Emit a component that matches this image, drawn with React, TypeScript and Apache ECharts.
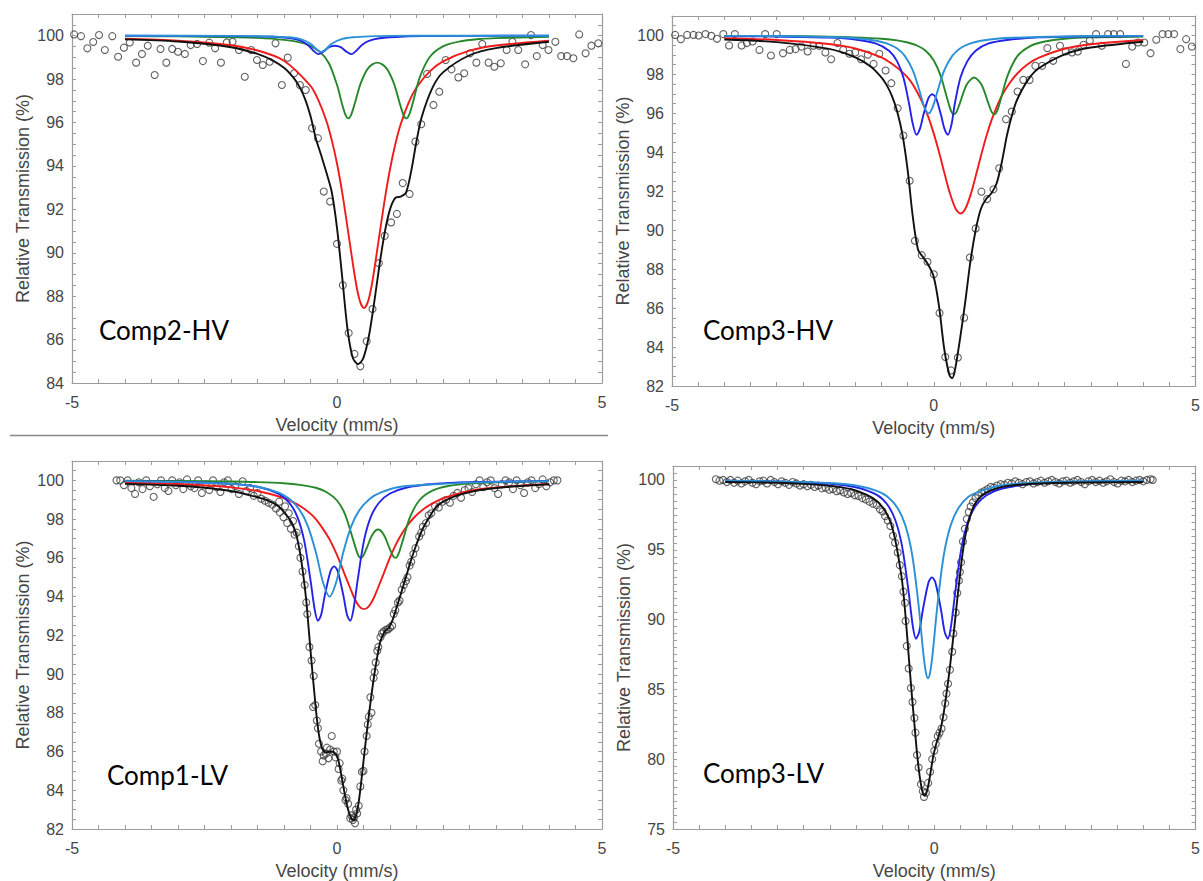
import React, { useEffect, useRef } from 'react';
import * as echarts from 'echarts';

type P = [number, number];

// ---------- Panel 1: Comp2-HV ----------
const p1Pts: P[] = [[-4.96,100.06],[-4.83,99.98],[-4.71,99.42],[-4.6,99.71],[-4.49,100.03],[-4.38,99.34],[-4.24,99.98],[-4.13,99.03],[-4.02,99.45],[-3.91,99.69],[-3.79,98.76],[-3.68,99.16],[-3.57,99.54],[-3.44,98.19],[-3.33,99.39],[-3.22,98.76],[-3.11,99.39],[-3.0,99.26],[-2.87,99.16],[-2.76,99.57],[-2.64,99.62],[-2.53,98.83],[-2.41,99.68],[-2.3,99.42],[-2.19,98.76],[-2.08,99.69],[-1.97,99.72],[-1.85,99.34],[-1.74,98.11],[-1.62,99.34],[-1.51,98.88],[-1.4,98.65],[-1.27,98.8],[-1.16,99.65],[-1.04,97.73],[-0.93,98.99],[-0.81,98.27],[-0.7,97.73],[-0.59,97.5],[-0.47,95.74],[-0.36,95.28],[-0.25,92.82],[-0.13,92.36],[0.0,90.41],[0.11,88.5],[0.22,86.3],[0.33,85.34],[0.44,84.77],[0.56,85.92],[0.67,87.41],[0.79,89.52],[0.9,90.78],[1.02,91.4],[1.13,91.79],[1.24,93.21],[1.37,92.71],[1.48,95.12],[1.59,95.92],[1.7,98.24],[1.82,96.81],[1.93,97.42],[2.05,98.88],[2.16,98.45],[2.29,98.08],[2.4,98.27],[2.51,99.19],[2.63,98.76],[2.74,99.62],[2.86,98.76],[2.97,98.57],[3.09,98.73],[3.2,99.34],[3.31,99.72],[3.42,99.34],[3.55,98.68],[3.66,100.03],[3.77,99.06],[3.88,99.57],[3.99,99.34],[4.12,99.72],[4.23,99.06],[4.34,99.06],[4.46,98.96],[4.57,100.06],[4.69,99.19],[4.8,99.54],[4.93,99.65]];
const p1Black: P[] = [[-4,99.83],[-3,99.73],[-2,99.47],[-1.5,99.16],[-1.2,98.84],[-1,98.52],[-0.9,98.29],[-0.8,98.0],[-0.7,97.61],[-0.6,97.07],[-0.5,96.3],[-0.4,95.28],[-0.3,94.5],[-0.2,93.7],[-0.1,92.81],[0,91.15],[0.1,88.83],[0.2,86.45],[0.3,85.15],[0.4,84.87],[0.5,85.17],[0.6,86.14],[0.7,87.68],[0.8,89.41],[0.9,90.93],[1.0,92.0],[1.1,92.53],[1.2,92.59],[1.3,92.76],[1.4,93.76],[1.5,95.14],[1.6,96.27],[1.8,97.6],[2.0,98.31],[2.5,99.1],[3,99.43],[4,99.72]];
const p1Red: P[] = [[-4,99.86],[-3,99.77],[-2,99.56],[-1.5,99.32],[-1,98.85],[-0.5,97.69],[-0.35,97.02],[-0.2,96.07],[-0.1,95.2],[0,94.11],[0.1,92.75],[0.2,91.14],[0.35,88.71],[0.43,87.79],[0.51,87.45],[0.59,87.79],[0.67,88.71],[0.8,90.81],[0.9,92.44],[1.0,93.85],[1.1,95.0],[1.2,95.91],[1.35,96.91],[1.5,97.61],[1.75,98.36],[2,98.82],[2.5,99.31],[3,99.55],[4,99.77]];
const p1Green: P[] = [[-4,99.98],[-3,99.97],[-2,99.93],[-1.5,99.9],[-1,99.81],[-0.7,99.69],[-0.5,99.53],[-0.3,99.21],[-0.15,98.72],[0,97.74],[0.05,97.29],[0.1,96.81],[0.16,96.35],[0.21,96.19],[0.26,96.32],[0.33,96.83],[0.45,97.83],[0.6,98.54],[0.76,98.76],[0.92,98.54],[1.07,97.83],[1.19,96.83],[1.26,96.32],[1.31,96.19],[1.36,96.35],[1.43,96.9],[1.56,98.07],[1.75,99.02],[2,99.51],[2.3,99.73],[2.7,99.85],[3,99.89],[4,99.95]];
const p1Blue: P[] = [[-4,100],[-2,99.98],[-1.2,99.95],[-0.9,99.89],[-0.7,99.78],[-0.55,99.57],[-0.45,99.32],[-0.35,99.15],[-0.25,99.28],[-0.15,99.47],[-0.04,99.54],[0.07,99.47],[0.17,99.28],[0.27,99.15],[0.37,99.32],[0.47,99.57],[0.6,99.76],[0.8,99.88],[1.1,99.94],[1.6,99.98],[2.5,99.99],[4,100]];
const p1LightBlue: P[] = [[-4,100],[-2,99.99],[-1.2,99.96],[-0.9,99.93],[-0.7,99.85],[-0.5,99.63],[-0.4,99.4],[-0.3,99.25],[-0.2,99.4],[-0.1,99.63],[0.1,99.85],[0.3,99.93],[0.6,99.97],[1,99.99],[2,100],[4,100]];

// ---------- Panel 2: Comp3-HV ----------
const p2Pts: P[] = [[-4.94,100.03],[-4.83,99.81],[-4.71,100.03],[-4.59,100.03],[-4.49,100.0],[-4.36,100.07],[-4.25,99.98],[-4.14,99.83],[-4.02,100.07],[-3.91,99.49],[-3.8,100.07],[-3.67,99.49],[-3.57,99.61],[-3.46,99.69],[-3.33,99.26],[-3.22,100.07],[-3.11,98.97],[-3.0,100.07],[-2.88,99.09],[-2.75,99.26],[-2.64,99.3],[-2.53,99.43],[-2.41,99.18],[-2.3,99.47],[-2.19,99.47],[-2.07,99.13],[-1.96,98.78],[-1.84,99.61],[-1.73,99.26],[-1.61,99.06],[-1.5,99.13],[-1.39,98.78],[-1.26,99.01],[-1.15,98.54],[-1.04,99.06],[-0.92,98.2],[-0.81,97.55],[-0.69,96.26],[-0.58,94.86],[-0.46,92.54],[-0.36,89.46],[-0.23,88.72],[-0.12,88.38],[0.0,87.74],[0.11,85.75],[0.22,83.49],[0.33,82.8],[0.46,83.46],[0.58,85.51],[0.69,88.6],[0.8,90.09],[0.91,91.98],[1.02,91.6],[1.14,92.1],[1.25,93.18],[1.38,95.7],[1.49,96.09],[1.6,97.12],[1.71,97.72],[1.83,97.72],[1.94,98.44],[2.07,98.44],[2.17,99.35],[2.28,98.7],[2.41,99.47],[2.52,99.18],[2.64,99.13],[2.75,99.18],[2.86,99.52],[2.98,99.74],[3.1,100.07],[3.21,99.47],[3.33,100.07],[3.44,100.07],[3.56,100.07],[3.67,98.54],[3.79,99.43],[3.9,99.64],[4.02,99.64],[4.14,99.09],[4.25,99.78],[4.37,100.07],[4.48,100.07],[4.59,100.07],[4.71,99.3],[4.82,99.81],[4.93,99.43]];
const p2Black: P[] = [[-4,99.79],[-3,99.66],[-2,99.31],[-1.5,98.88],[-1.2,98.4],[-1,97.85],[-0.9,97.45],[-0.8,96.9],[-0.7,96.11],[-0.6,94.93],[-0.5,93.11],[-0.4,90.68],[-0.3,89.0],[-0.2,88.6],[-0.1,88.2],[0,87.6],[0.1,86.1],[0.2,83.9],[0.3,82.55],[0.35,82.4],[0.4,82.75],[0.5,84.4],[0.6,86.3],[0.7,88.4],[0.8,90.0],[0.9,91.1],[1.0,91.6],[1.1,91.9],[1.2,92.4],[1.3,93.5],[1.4,94.9],[1.5,95.97],[1.6,96.75],[1.8,97.72],[2,98.3],[2.5,99.03],[3,99.38],[4,99.68]];
const p2Red: P[] = [[-4,99.86],[-3,99.77],[-2,99.56],[-1.5,99.33],[-1,98.88],[-0.8,98.55],[-0.6,98.12],[-0.45,97.68],[-0.3,97.01],[-0.2,96.45],[-0.1,95.78],[0,94.96],[0.1,94.01],[0.2,92.97],[0.3,91.97],[0.42,91.09],[0.51,90.86],[0.6,91.09],[0.7,91.79],[0.8,92.77],[0.9,93.81],[1.0,94.79],[1.1,95.63],[1.2,96.32],[1.3,96.91],[1.45,97.56],[1.6,98.06],[1.8,98.53],[2,98.85],[2.5,99.32],[3,99.55],[4,99.77]];
const p2Green: P[] = [[-4,99.98],[-3,99.97],[-2,99.94],[-1.5,99.9],[-1,99.83],[-0.7,99.75],[-0.5,99.64],[-0.3,99.46],[-0.15,99.2],[0,98.72],[0.13,97.94],[0.26,96.73],[0.33,96.13],[0.38,95.95],[0.43,96.05],[0.5,96.54],[0.63,97.48],[0.77,97.84],[0.91,97.48],[1.04,96.54],[1.11,96.05],[1.16,95.95],[1.21,96.13],[1.28,96.73],[1.41,97.94],[1.6,98.95],[1.85,99.47],[2.1,99.68],[2.5,99.83],[3,99.9],[4,99.95]];
const p2Blue: P[] = [[-4,99.97],[-3,99.95],[-2,99.89],[-1.5,99.79],[-1.1,99.58],[-0.85,99.2],[-0.7,98.67],[-0.58,97.84],[-0.47,96.47],[-0.4,95.45],[-0.33,94.9],[-0.26,95.24],[-0.2,95.9],[-0.1,96.79],[-0.03,96.98],[0.04,96.79],[0.14,95.9],[0.2,95.24],[0.27,94.9],[0.34,95.45],[0.4,96.47],[0.51,97.84],[0.64,98.67],[0.8,99.22],[1.05,99.59],[1.4,99.77],[2,99.9],[3,99.95],[4,99.97]];
const p2LightBlue: P[] = [[-4,99.98],[-3,99.97],[-2,99.92],[-1.5,99.86],[-1.1,99.73],[-0.9,99.59],[-0.7,99.33],[-0.55,98.94],[-0.4,98.21],[-0.27,97.13],[-0.18,96.32],[-0.1,96.0],[-0.02,96.32],[0.07,97.13],[0.2,98.21],[0.35,98.94],[0.5,99.33],[0.7,99.59],[0.9,99.73],[1.3,99.86],[2,99.92],[3,99.97],[4,99.98]];

// ---------- Panel 3: Comp1-LV ----------
const p3Pts: P[] = [[-4.16,100.0],[-4.09,100.0],[-4.02,99.75],[-3.95,100.0],[-3.88,99.6],[-3.81,99.3],[-3.74,99.9],[-3.67,99.55],[-3.6,100.0],[-3.53,99.7],[-3.46,99.15],[-3.39,99.8],[-3.32,100.0],[-3.25,99.6],[-3.18,99.45],[-3.11,100.0],[-3.04,99.75],[-2.97,99.9],[-2.9,99.55],[-2.83,100.05],[-2.76,99.7],[-2.69,99.6],[-2.62,100.0],[-2.55,99.35],[-2.48,99.8],[-2.41,99.5],[-2.34,100.0],[-2.27,99.65],[-2.2,99.4],[-2.13,99.9],[-2.06,100.0],[-1.99,99.55],[-1.92,99.7],[-1.85,99.3],[-1.78,99.95],[-1.71,99.45],[-1.64,99.6],[-1.57,99.2],[-1.5,99.35],[-1.43,99.05],[-1.36,98.95],[-1.29,98.85],[-1.22,98.75],[-1.15,98.55],[-1.09,98.9],[-1.08,98.35],[-1.01,98.1],[-0.98,98.66],[-0.94,97.8],[-0.91,98.3],[-0.87,97.5],[-0.83,97.9],[-0.8,97.2],[-0.76,97.3],[-0.72,96.6],[-0.69,96.0],[-0.65,95.3],[-0.61,94.6],[-0.58,93.7],[-0.56,93.1],[-0.52,91.4],[-0.48,90.7],[-0.45,88.3],[-0.44,89.9],[-0.41,88.4],[-0.38,87.6],[-0.36,87.2],[-0.34,86.4],[-0.3,86.0],[-0.27,85.5],[-0.25,85.8],[-0.21,85.9],[-0.19,86.2],[-0.16,85.65],[-0.13,86.1],[-0.1,86.8],[-0.06,86.0],[-0.03,85.7],[0.0,86.0],[0.03,85.1],[0.05,85.4],[0.08,84.5],[0.1,84.6],[0.12,84.0],[0.16,83.5],[0.18,83.6],[0.21,83.3],[0.25,82.55],[0.27,82.7],[0.3,82.47],[0.32,82.6],[0.34,82.3],[0.36,83.0],[0.38,82.8],[0.41,83.2],[0.44,84.2],[0.47,84.96],[0.5,85.0],[0.52,86.0],[0.56,86.8],[0.58,87.4],[0.6,87.8],[0.63,88.8],[0.65,88.0],[0.69,89.8],[0.71,90.1],[0.73,90.6],[0.76,91.2],[0.78,91.4],[0.82,91.9],[0.85,92.1],[0.88,92.2],[0.93,92.3],[0.96,92.3],[1.0,92.4],[1.04,92.5],[1.07,93.1],[1.1,93.3],[1.15,93.7],[1.18,93.8],[1.22,94.35],[1.26,94.6],[1.3,94.8],[1.33,95.0],[1.37,95.6],[1.4,95.8],[1.44,96.2],[1.48,96.5],[1.55,97.1],[1.59,97.3],[1.62,97.6],[1.68,97.8],[1.73,98.2],[1.78,98.3],[1.85,98.66],[1.92,98.6],[1.99,98.9],[2.06,99.0],[2.13,98.85],[2.2,99.2],[2.27,99.35],[2.34,99.1],[2.41,99.5],[2.48,99.6],[2.55,99.4],[2.62,99.8],[2.69,100.0],[2.76,99.65],[2.83,99.9],[2.9,100.0],[2.97,99.6],[3.04,99.3],[3.11,99.8],[3.18,100.0],[3.25,99.9],[3.32,99.55],[3.39,100.0],[3.46,99.75],[3.53,99.35],[3.6,99.9],[3.67,100.0],[3.74,99.6],[3.81,99.8],[3.88,100.05],[3.95,99.7],[4.02,99.9],[4.09,100.0],[4.16,100.0]];
const p3Black: P[] = [[-4,99.82],[-3,99.72],[-2.5,99.62],[-2,99.45],[-1.6,99.2],[-1.3,98.95],[-1.1,98.65],[-0.95,98.2],[-0.85,97.8],[-0.77,97.2],[-0.7,96.3],[-0.64,95.2],[-0.58,93.8],[-0.53,92.2],[-0.48,90.6],[-0.43,89.1],[-0.38,87.7],[-0.33,86.7],[-0.27,86.1],[-0.2,85.95],[-0.12,86.0],[-0.05,85.95],[0.02,85.6],[0.08,84.8],[0.14,83.9],[0.2,83.1],[0.26,82.6],[0.31,82.45],[0.36,82.7],[0.41,83.4],[0.46,84.5],[0.52,86.0],[0.58,87.4],[0.64,88.7],[0.7,89.9],[0.76,90.9],[0.82,91.7],[0.9,92.2],[0.98,92.4],[1.05,92.8],[1.12,93.4],[1.2,94.1],[1.3,95.0],[1.4,95.9],[1.5,96.7],[1.6,97.4],[1.72,98.0],[1.85,98.55],[2,98.9],[2.3,99.25],[2.7,99.5],[3.2,99.66],[4,99.8]];
const p3Red: P[] = [[-4,99.88],[-3,99.81],[-2,99.64],[-1.5,99.45],[-1,99.09],[-0.8,98.84],[-0.6,98.5],[-0.45,98.15],[-0.3,97.64],[-0.15,97.0],[-0.05,96.45],[0.05,95.82],[0.15,95.11],[0.25,94.43],[0.33,93.9],[0.42,93.5],[0.51,93.35],[0.6,93.5],[0.69,93.9],[0.77,94.43],[0.87,95.11],[0.97,95.82],[1.07,96.45],[1.17,97.0],[1.3,97.57],[1.45,98.07],[1.6,98.45],[1.8,98.81],[2,99.07],[2.5,99.45],[3,99.63],[4,99.81]];
const p3Green: P[] = [[-4,99.98],[-3,99.97],[-2,99.94],[-1.5,99.91],[-1,99.85],[-0.7,99.77],[-0.4,99.62],[-0.2,99.4],[0,98.96],[0.15,98.26],[0.3,96.98],[0.39,96.2],[0.44,96.0],[0.49,96.08],[0.56,96.5],[0.67,97.2],[0.775,97.46],[0.88,97.2],[0.99,96.5],[1.06,96.08],[1.11,96.0],[1.16,96.2],[1.25,96.98],[1.37,98.05],[1.55,98.96],[1.8,99.47],[2.1,99.71],[2.5,99.83],[3,99.9],[4,99.96]];
const p3Blue: P[] = [[-4,99.96],[-3,99.93],[-2,99.82],[-1.5,99.67],[-1.1,99.3],[-0.9,98.84],[-0.75,98.13],[-0.62,96.9],[-0.5,94.85],[-0.42,93.32],[-0.36,92.75],[-0.3,93.05],[-0.23,94.06],[-0.12,95.33],[-0.055,95.56],[0.01,95.33],[0.12,94.06],[0.19,93.05],[0.25,92.75],[0.31,93.32],[0.39,94.85],[0.51,96.9],[0.64,98.13],[0.8,98.87],[1.0,99.32],[1.3,99.62],[1.8,99.81],[2.5,99.91],[4,99.96]];
const p3LightBlue: P[] = [[-4,99.96],[-3,99.92],[-2,99.82],[-1.5,99.67],[-1.1,99.37],[-0.9,99.05],[-0.7,98.45],[-0.55,97.64],[-0.4,96.3],[-0.26,94.7],[-0.14,94.0],[-0.02,94.7],[0.12,96.3],[0.27,97.64],[0.42,98.45],[0.62,99.05],[0.82,99.37],[1.2,99.67],[2,99.82],[3,99.92],[4,99.96]];

// ---------- Panel 4: Comp3-LV ----------
const p4Pts: P[] = [[-4.18,100.05],[-4.11,99.95],[-4.04,100.0],[-3.97,99.85],[-3.9,100.0],[-3.83,99.8],[-3.76,99.95],[-3.69,99.75],[-3.62,99.9],[-3.55,100.0],[-3.48,99.8],[-3.41,99.7],[-3.34,99.9],[-3.27,99.95],[-3.2,99.75],[-3.13,100.0],[-3.06,99.85],[-2.99,99.7],[-2.92,99.9],[-2.85,99.8],[-2.78,99.65],[-2.71,99.85],[-2.64,99.75],[-2.57,99.6],[-2.5,99.7],[-2.43,99.55],[-2.36,99.65],[-2.29,99.5],[-2.22,99.6],[-2.15,99.4],[-2.08,99.45],[-2.01,99.3],[-1.94,99.35],[-1.87,99.2],[-1.8,99.25],[-1.73,99.1],[-1.66,99.0],[-1.59,99.05],[-1.52,98.9],[-1.45,98.85],[-1.38,98.7],[-1.31,98.6],[-1.24,98.45],[-1.17,98.3],[-1.1,98.2],[-1.04,97.9],[-0.99,97.75],[-0.94,97.4],[-0.89,97.1],[-0.84,96.7],[-0.79,96.0],[-0.75,95.5],[-0.7,94.8],[-0.66,93.9],[-0.62,93.1],[-0.59,92.0],[-0.56,91.2],[-0.55,89.9],[-0.527,88.1],[-0.49,86.5],[-0.447,85.1],[-0.417,84.1],[-0.38,82.95],[-0.36,81.9],[-0.33,80.3],[-0.3,79.4],[-0.256,78.2],[-0.22,77.7],[-0.197,77.3],[-0.161,77.6],[-0.117,78.3],[-0.08,79.1],[-0.04,80.0],[0.0,80.6],[0.029,81.1],[0.066,81.65],[0.1,81.9],[0.139,82.2],[0.176,83.0],[0.21,84.0],[0.234,84.7],[0.264,85.4],[0.3,86.4],[0.344,87.7],[0.366,89.0],[0.41,90.5],[0.439,91.9],[0.47,92.8],[0.49,93.4],[0.512,94.1],[0.549,95.6],[0.586,96.5],[0.622,97.2],[0.66,97.7],[0.696,98.1],[0.74,98.4],[0.79,98.7],[0.84,98.9],[0.9,99.1],[0.96,99.2],[1.02,99.35],[1.08,99.5],[1.14,99.45],[1.2,99.6],[1.27,99.7],[1.34,99.65],[1.41,99.8],[1.48,99.75],[1.55,99.9],[1.62,99.8],[1.69,99.7],[1.76,99.85],[1.83,99.9],[1.9,99.75],[1.97,99.85],[2.04,99.95],[2.11,99.8],[2.18,99.9],[2.25,100.0],[2.32,99.85],[2.39,99.75],[2.46,99.9],[2.53,99.95],[2.6,99.8],[2.67,99.9],[2.74,100.0],[2.81,99.85],[2.88,99.7],[2.95,99.9],[3.02,100.0],[3.09,99.85],[3.16,99.95],[3.23,99.8],[3.3,99.9],[3.37,100.05],[3.44,99.85],[3.51,99.75],[3.58,99.95],[3.65,99.9],[3.72,100.0],[3.79,99.85],[3.86,99.95],[3.93,100.0],[4.0,99.9],[4.07,100.0],[4.14,100.05],[4.18,100.0]];
const p4Black: P[] = [[-4,99.85],[-3,99.8],[-2.5,99.72],[-2,99.58],[-1.6,99.35],[-1.3,98.95],[-1.1,98.5],[-0.98,98.0],[-0.9,97.5],[-0.83,96.9],[-0.77,96.1],[-0.72,95.2],[-0.67,94.1],[-0.62,92.9],[-0.58,91.5],[-0.54,89.8],[-0.5,87.9],[-0.46,86.0],[-0.42,84.2],[-0.38,82.5],[-0.34,80.8],[-0.3,79.4],[-0.26,78.3],[-0.22,77.6],[-0.18,77.4],[-0.14,77.7],[-0.1,78.4],[-0.06,79.3],[-0.02,80.2],[0.03,81.0],[0.08,81.6],[0.13,82.3],[0.18,83.3],[0.23,84.6],[0.28,86.0],[0.33,87.6],[0.38,89.3],[0.43,91.1],[0.48,92.8],[0.53,94.4],[0.58,95.7],[0.64,96.8],[0.7,97.6],[0.78,98.3],[0.9,98.85],[1.05,99.2],[1.3,99.5],[1.7,99.68],[2.5,99.8],[4,99.85]];
const p4Blue: P[] = [[-4,99.94],[-3,99.88],[-2,99.73],[-1.5,99.48],[-1.1,98.93],[-0.9,98.24],[-0.75,97.17],[-0.62,95.33],[-0.5,92.25],[-0.41,89.52],[-0.35,88.63],[-0.29,89.1],[-0.22,90.67],[-0.11,92.68],[-0.045,93.02],[0.02,92.68],[0.13,90.67],[0.2,89.1],[0.26,88.63],[0.32,89.52],[0.4,91.93],[0.52,95.14],[0.65,97.07],[0.8,98.19],[1.0,98.91],[1.3,99.38],[1.8,99.7],[2.5,99.84],[4,99.94]];
const p4LightBlue: P[] = [[-4,99.95],[-3,99.9],[-2,99.78],[-1.5,99.6],[-1.1,99.22],[-0.9,98.81],[-0.7,97.98],[-0.55,96.71],[-0.42,94.57],[-0.3,91.02],[-0.21,87.6],[-0.16,86.2],[-0.12,85.8],[-0.08,86.2],[-0.03,87.6],[0.06,91.02],[0.18,94.57],[0.31,96.71],[0.46,97.98],[0.66,98.81],[0.9,99.22],[1.3,99.62],[2,99.83],[3,99.92],[4,99.95]];

const panelLabels = ['Comp2-HV', 'Comp3-HV', 'Comp1-LV', 'Comp3-LV'];
const yMins = [84, 82, 82, 75];
const yMax = 101;
const yLabelSteps = [2, 2, 2, 5];

const C_BLACK = '#111111';
const C_RED = '#f01c1c';
const C_GREEN = '#27882b';
const C_BLUE = '#2323ea';
const C_LBLUE = '#2b90d6';
const FRAME = '#9c9c9c';
const LABEL = '#464646';
const FONT = "'Liberation Sans', Arial, sans-serif";

const grids = [
  { left: 72, top: 14, width: 530, height: 369 },
  { left: 672, top: 16, width: 529, height: 370 },
  { left: 72, top: 461, width: 530, height: 369 },
  { left: 673, top: 466, width: 524, height: 366 },
];

const labelPos = [
  [99, 330],
  [703, 330],
  [107, 775],
  [703, 773],
];

const panelSeries: { pts: P[]; lines: { data: P[]; color: string }[] }[] = [
  { pts: p1Pts, lines: [
    { data: p1Red, color: C_RED }, { data: p1Green, color: C_GREEN },
    { data: p1Blue, color: C_BLUE }, { data: p1LightBlue, color: C_LBLUE }, { data: p1Black, color: C_BLACK } ] },
  { pts: p2Pts, lines: [
    { data: p2Red, color: C_RED }, { data: p2Green, color: C_GREEN },
    { data: p2Blue, color: C_BLUE }, { data: p2LightBlue, color: C_LBLUE }, { data: p2Black, color: C_BLACK } ] },
  { pts: p3Pts, lines: [
    { data: p3Red, color: C_RED }, { data: p3Green, color: C_GREEN },
    { data: p3Blue, color: C_BLUE }, { data: p3LightBlue, color: C_LBLUE }, { data: p3Black, color: C_BLACK } ] },
  { pts: p4Pts, lines: [
    { data: p4Blue, color: C_BLUE }, { data: p4LightBlue, color: C_LBLUE }, { data: p4Black, color: C_BLACK } ] },
];

function buildOption() {
  const xAxis: any[] = [];
  const yAxis: any[] = [];
  const series: any[] = [];
  grids.forEach((_, i) => {
    const baseLine = { show: true, onZero: false, lineStyle: { color: FRAME, width: 1.2 } };
    const tick = { show: true, inside: true, length: 4, lineStyle: { color: FRAME, width: 1 } };
    xAxis.push({
      type: 'value', gridIndex: i, position: 'bottom', min: -5, max: 5, interval: 0.5,
      axisLine: baseLine, axisTick: tick, splitLine: { show: false },
      axisLabel: {
        show: true, showMinLabel: true, showMaxLabel: true,
        formatter: (v: number) => (Math.abs(v % 5) < 1e-9 ? String(Math.round(v)) : ''),
        color: LABEL, fontSize: 16, fontFamily: FONT, margin: 11,
      },
      name: 'Velocity (mm/s)', nameLocation: 'middle', nameGap: 33,
      nameTextStyle: { color: LABEL, fontSize: 18, fontFamily: FONT },
    });
    xAxis.push({
      type: 'value', gridIndex: i, position: 'top', min: -5, max: 5, interval: 0.5,
      axisLine: baseLine, axisTick: tick, splitLine: { show: false }, axisLabel: { show: false },
    });
    const step = yLabelSteps[i];
    yAxis.push({
      type: 'value', gridIndex: i, position: 'left', min: yMins[i], max: yMax, interval: 0.5,
      axisLine: baseLine, axisTick: tick, splitLine: { show: false },
      axisLabel: {
        show: true,
        formatter: (v: number) => (Math.abs(v % step) < 1e-9 ? String(Math.round(v)) : ''),
        color: LABEL, fontSize: 16, fontFamily: FONT, margin: 8,
      },
      name: 'Relative Transmission (%)', nameLocation: 'middle', nameGap: 40,
      nameTextStyle: { color: LABEL, fontSize: 18, fontFamily: FONT },
    });
    yAxis.push({
      type: 'value', gridIndex: i, position: 'right', min: yMins[i], max: yMax, interval: 0.5,
      axisLine: baseLine, axisTick: tick, splitLine: { show: false }, axisLabel: { show: false },
    });
    const ps = panelSeries[i];
    series.push({
      type: 'scatter', xAxisIndex: 2 * i, yAxisIndex: 2 * i, data: ps.pts,
      symbol: 'circle', symbolSize: 7, silent: true, z: 2,
      itemStyle: { color: 'rgba(0,0,0,0)', borderColor: '#3a3a3a', borderWidth: 1.1 },
    });
    ps.lines.forEach((ln) => {
      series.push({
        type: 'line', xAxisIndex: 2 * i, yAxisIndex: 2 * i, data: ln.data,
        showSymbol: false, symbol: 'none', smooth: 0.3, silent: true, z: 3,
        lineStyle: { color: ln.color, width: 1.9 },
      });
    });
  });

  const graphic: any[] = panelLabels.map((t, i) => ({
    type: 'text', x: labelPos[i][0], y: labelPos[i][1], z: 10,
    style: { text: t, fill: '#000', font: "26px Lato, 'Open Sans', sans-serif", verticalAlign: 'middle', align: 'left' },
  }));
  graphic.push({
    type: 'line', shape: { x1: 10, y1: 435.5, x2: 608, y2: 435.5 },
    style: { stroke: '#8a8a8a', lineWidth: 1.5 },
  });

  return {
    animation: false,
    backgroundColor: '#ffffff',
    grid: grids,
    xAxis, yAxis, series, graphic,
  };
}

export default function App() {
  const ref = useRef<HTMLDivElement>(null);
  useEffect(() => {
    if (!ref.current) return;
    const chart = echarts.init(ref.current, null, { renderer: 'svg' });
    chart.setOption(buildOption() as any);
    return () => chart.dispose();
  }, []);
  return (
    <div
      ref={ref}
      style={{ position: 'fixed', left: 0, top: 0, width: 1203, height: 881, background: '#fff' }}
    />
  );
}
